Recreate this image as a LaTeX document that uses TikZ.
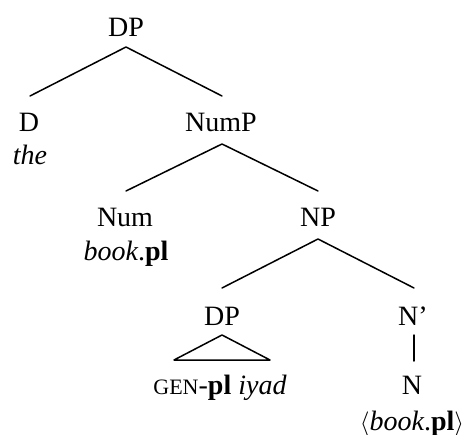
\documentclass[tikz,border=0pt]{standalone}
\usepackage{fontspec}
\setmainfont{Liberation Serif}[
  ItalicFont={Liberation Serif Italic},
  BoldFont={Liberation Serif Bold},
  BoldItalicFont={Liberation Serif Bold Italic}]
\begin{document}
\begin{tikzpicture}[x=1pt,y=1pt,
  lbl/.style={anchor=base,inner sep=0pt,font=\fontsize{28}{30}\selectfont},
  branch/.style={line width=1.5pt,line cap=round,line join=round}]
\useasboundingbox (0,0) rectangle (468,-435);
% labels
\node[lbl] (dp)   at (126,-37)  {DP};
\node[lbl] (d)    at (29,-132)  {D};
\node[lbl] (the)  at (30,-165)  {\textit{the}};
\node[lbl] (nump) at (221,-132) {NumP};
\node[lbl] (num)  at (125,-227) {Num};
\node[lbl] (numw) at (126,-261) {\textit{book}.\textbf{pl}};
\node[lbl] (np)   at (318,-227) {NP};
\node[lbl] (dpb)  at (222,-325) {DP};
\node[lbl] (nbar) at (413,-325) {N’};
\node[lbl] (gen)  at (220,-394) {{\fontsize{22}{22}\selectfont GEN}-\textbf{pl} \textit{iyad}};
\node[lbl] (n)    at (412,-394) {N};
\node[lbl] (nw)   at (412,-430) {$\langle$\textit{book}.\textbf{pl}$\rangle$};
% branches
\draw[branch] ([xshift=1,yshift=36]d.base) -- ([yshift=-10]dp.base) -- ([xshift=1,yshift=36]nump.base);
\draw[branch] ([xshift=1,yshift=36]num.base) -- ([xshift=1,yshift=-12]nump.base) -- ([yshift=36]np.base);
\draw[branch] ([yshift=37]dpb.base) -- ([yshift=-12]np.base) -- ([xshift=1,yshift=37]nbar.base);
\draw[branch] ([yshift=-10]dpb.base) -- ([xshift=-46,yshift=34]gen.base) -- ([xshift=50,yshift=34]gen.base) -- cycle;
\draw[branch] ([xshift=1,yshift=-10]nbar.base) -- ([xshift=2,yshift=33]n.base);
\end{tikzpicture}
\end{document}
